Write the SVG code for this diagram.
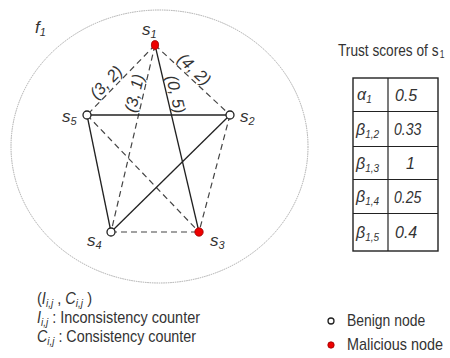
<svg xmlns="http://www.w3.org/2000/svg" width="450" height="358" viewBox="0 0 450 358">
<style>
text{font-family:"Liberation Sans",Arial,sans-serif;fill:#333}
.it{font-style:italic}
.lbl{font-size:17px;font-style:italic}
.sub{font-size:11px}
.tsub{font-size:10px}
.el{font-size:16.5px;font-style:italic}
.dash{stroke:#444;stroke-width:1.2;stroke-dasharray:6 4;fill:none}
.solid{stroke:#222;stroke-width:1.3;fill:none}
.ben{fill:#fff;stroke:#222;stroke-width:1.3}
.mal{fill:#e00;stroke:#900;stroke-width:0.8}
.tb{font-size:16px;font-style:italic}
.lg{font-size:16px}
</style>
<rect width="450" height="358" fill="#fff"/>
<ellipse cx="159.5" cy="146.5" rx="148.5" ry="136.5" fill="none" stroke="#aaa" stroke-width="1" stroke-dasharray="1.5 0.8"/>
<text class="lbl" x="35" y="33">f<tspan class="sub" dy="3">1</tspan></text>
<g id="connectors">
<line class="dash" x1="155" y1="45" x2="87" y2="115"/>
<line class="dash" x1="155" y1="45" x2="230" y2="115"/>
<line class="dash" x1="155" y1="45" x2="111" y2="232"/>
<line class="solid" x1="155" y1="45" x2="199" y2="232"/>
<line class="solid" x1="87" y1="115" x2="230" y2="115"/>
<line class="solid" x1="87" y1="115" x2="111" y2="232"/>
<line class="dash" x1="87" y1="115" x2="199" y2="232"/>
<line class="solid" x1="230" y1="115" x2="111" y2="232"/>
<line class="dash" x1="230" y1="115" x2="199" y2="232"/>
<line class="dash" x1="111" y1="232" x2="199" y2="232"/>
<text class="el" text-anchor="middle" transform="translate(105.9,81.9) rotate(-46)" x="0" y="6">(3, 2)</text>
<text class="el" text-anchor="middle" transform="translate(194.6,69) rotate(43)" x="0" y="6">(4, 2)</text>
<text class="el" text-anchor="middle" transform="translate(134,93.1) rotate(-77)" x="0" y="6">(3, 1)</text>
<text class="el" text-anchor="middle" transform="translate(176.3,94.2) rotate(77)" x="0" y="6">(0, 5)</text>
</g>
<g id="s1"><ellipse class="mal" cx="155" cy="45" rx="3.6" ry="4.4"/><text class="lbl" x="142" y="35">s<tspan class="sub" dy="3">1</tspan></text></g>
<g id="s2"><circle class="ben" cx="230" cy="115" r="4"/><text class="lbl" x="240" y="122">s<tspan class="sub" dy="3">2</tspan></text></g>
<g id="s3"><circle class="mal" cx="199" cy="232" r="4.2"/><text class="lbl" x="210" y="246">s<tspan class="sub" dy="3">3</tspan></text></g>
<g id="s4"><circle class="ben" cx="111" cy="232" r="4"/><text class="lbl" x="87" y="246">s<tspan class="sub" dy="3">4</tspan></text></g>
<g id="s5"><circle class="ben" cx="87" cy="115" r="4"/><text class="lbl" x="62" y="122">s<tspan class="sub" dy="3">5</tspan></text></g>
<g id="table">
<text transform="translate(338,56) scale(0.855,1)" font-size="16">Trust scores of s<tspan font-size="10" dx="1.5" dy="2">1</tspan></text>
<rect x="353" y="78" width="85" height="173" fill="none" stroke="#222" stroke-width="1.4"/>
<g stroke="#222" stroke-width="1.2">
<line x1="388" y1="78" x2="388" y2="251"/>
<line x1="353" y1="111.5" x2="438" y2="111.5"/>
<line x1="353" y1="146.5" x2="438" y2="146.5"/>
<line x1="353" y1="179.5" x2="438" y2="179.5"/>
<line x1="353" y1="213.5" x2="438" y2="213.5"/>
</g>
<text class="tb" x="357" y="100">α<tspan class="tsub" dy="3">1</tspan></text>
<text class="tb" x="356" y="134.5">β<tspan class="tsub" dy="3">1,2</tspan></text>
<text class="tb" x="356" y="168.5">β<tspan class="tsub" dy="3">1,3</tspan></text>
<text class="tb" x="356" y="202">β<tspan class="tsub" dy="3">1,4</tspan></text>
<text class="tb" x="356" y="237.5">β<tspan class="tsub" dy="3">1,5</tspan></text>
<text class="tb" x="395" y="101">0.5</text>
<text class="tb" transform="translate(394,135) scale(0.88,1)">0.33</text>
<text class="tb" x="406" y="169">1</text>
<text class="tb" transform="translate(394,202.5) scale(0.88,1)">0.25</text>
<text class="tb" x="395" y="238">0.4</text>
</g>
<g id="legend">
<text class="lg" x="37" y="304" textLength="55" lengthAdjust="spacingAndGlyphs">(<tspan class="it">I</tspan><tspan class="sub it" dy="3">i,j</tspan><tspan dy="-3"> , </tspan><tspan class="it">C</tspan><tspan class="sub it" dy="3">i,j</tspan><tspan dy="-3"> )</tspan></text>
<text class="lg" x="37" y="323" textLength="163" lengthAdjust="spacingAndGlyphs"><tspan class="it">I</tspan><tspan class="sub it" dy="3">i,j</tspan><tspan dy="-3"> : Inconsistency counter</tspan></text>
<text class="lg" x="37" y="342" textLength="159" lengthAdjust="spacingAndGlyphs"><tspan class="it">C</tspan><tspan class="sub it" dy="3">i,j</tspan><tspan dy="-3"> : Consistency counter</tspan></text>
<circle class="ben" cx="331" cy="321" r="3"/>
<text class="lg" transform="translate(347,326) scale(0.87,1)">Benign node</text>
<circle class="mal" cx="331" cy="345" r="3.2"/>
<text class="lg" transform="translate(347,350) scale(0.9,1)">Malicious node</text>
</g>
</svg>
